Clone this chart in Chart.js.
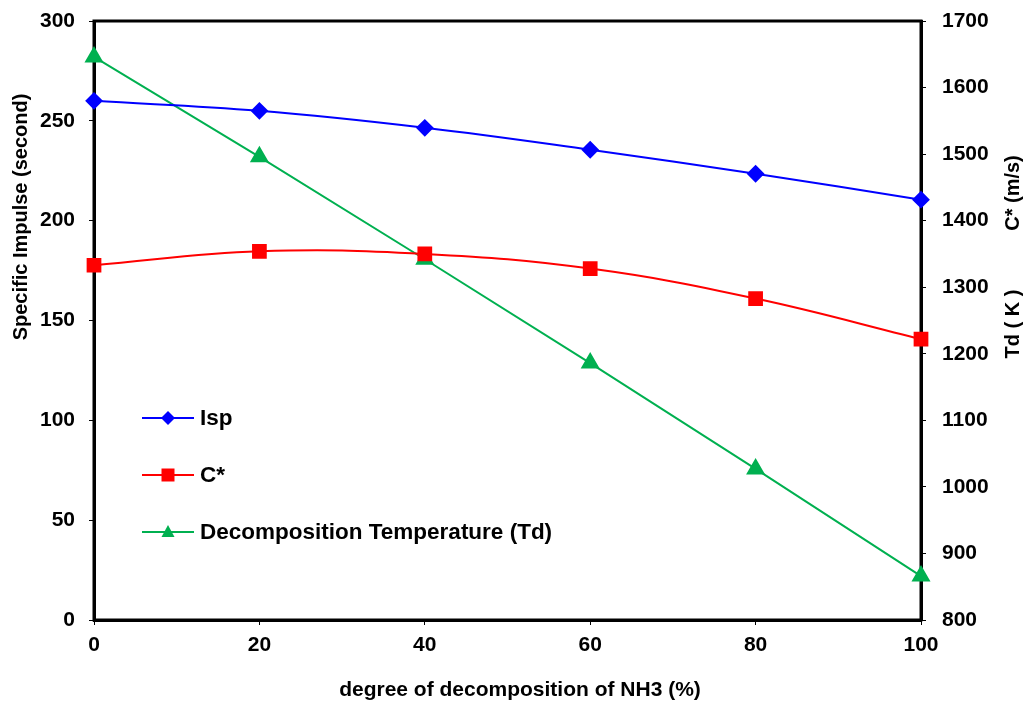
<!DOCTYPE html>
<html lang="en">
<head>
    <meta charset="UTF-8">
    <title>Isp, C* and Td vs degree of decomposition of NH3</title>
    <script src="https://cdn.jsdelivr.net/npm/chart.js"></script>
    <style>
        body { margin: 0; background: #fff; }
        #wrap { width: 1026px; height: 701px; }
    </style>
</head>
<body>
<div id="wrap"><canvas id="chart"></canvas></div>
<script>
    // degree of decomposition (%)
    const decomposition = [0, 20, 40, 60, 80, 100];
    const ispValues = [260, 255, 246.5, 235.5, 223.5, 210.5];      // second (left axis)
    const cStarValues = [1333, 1354, 1350, 1328, 1283, 1222];     // m/s (right axis)
    const tdValues = [1646, 1496, 1342, 1186, 1027, 866];         // K (right axis)

    const legendItems = [
        { label: 'Isp', color: '#0000ff', style: 'rectRot' },
        { label: 'C*', color: '#ff0000', style: 'rect' },
        { label: 'Decomposition Temperature (Td)', color: '#00b050', style: 'triangle' }
    ];

    const toXY = vals => vals.map((v, i) => ({ x: decomposition[i], y: v }));
    const FAMILY = 'Arial, "Liberation Sans", sans-serif';
    const tickFont = { family: FAMILY, size: 21, weight: 'bold' };

    function drawMarker(ctx, style, x, y, color) {
        ctx.fillStyle = color;
        ctx.beginPath();
        if (style === 'rectRot') {
            ctx.moveTo(x, y - 7); ctx.lineTo(x + 7, y); ctx.lineTo(x, y + 7); ctx.lineTo(x - 7, y);
        } else if (style === 'rect') {
            ctx.rect(x - 6.5, y - 6.5, 13, 13);
        } else {
            ctx.moveTo(x, y - 7); ctx.lineTo(x + 6.5, y + 5); ctx.lineTo(x - 6.5, y + 5);
        }
        ctx.closePath();
        ctx.fill();
    }

    function rotatedText(ctx, text, x, y) {
        ctx.save();
        ctx.translate(x, y);
        ctx.rotate(-Math.PI / 2);
        ctx.fillText(text, 0, 0);
        ctx.restore();
    }

    // frame under the lines, titles and legend on top
    const extras = {
        id: 'extras',
        beforeDatasetsDraw(chart) {
            const { ctx, chartArea: a } = chart;
            ctx.save();
            ctx.strokeStyle = '#000';
            ctx.lineWidth = 3;
            ctx.strokeRect(a.left, a.top, a.right - a.left, a.bottom - a.top);
            ctx.restore();
        },
        afterDatasetsDraw(chart) {
            const { ctx } = chart;
            ctx.save();
            ctx.fillStyle = '#000';
            ctx.font = 'bold 21px ' + FAMILY;
            ctx.textAlign = 'center';
            ctx.textBaseline = 'middle';
            ctx.fillText('degree of decomposition of NH3 (%)', 520, 690);
            ctx.font = 'bold 20px ' + FAMILY;
            rotatedText(ctx, 'Specific Impulse (second)', 21, 217);
            rotatedText(ctx, 'C* (m/s)', 1013, 193);
            rotatedText(ctx, 'Td ( K )', 1013, 324);

            legendItems.forEach((it, i) => {
                const y = 418 + i * 57;
                ctx.strokeStyle = it.color;
                ctx.lineWidth = 2;
                ctx.beginPath();
                ctx.moveTo(142, y); ctx.lineTo(194, y);
                ctx.stroke();
                drawMarker(ctx, it.style, 168, y, it.color);
                ctx.fillStyle = '#000';
                ctx.font = 'bold 22.5px ' + FAMILY;
                ctx.textAlign = 'left';
                ctx.textBaseline = 'middle';
                ctx.fillText(it.label, 200, y + 1);
            });
            ctx.restore();
        }
    };

    const axisGrid = { drawOnChartArea: false, drawTicks: true, tickLength: 5, color: '#000', lineWidth: 1 };
    const axisBorder = { color: '#000', width: 3 };

    new Chart(document.getElementById('chart'), {
        type: 'line',
        data: {
            datasets: [
                {
                    label: 'Isp', data: toXY(ispValues), yAxisID: 'y',
                    borderColor: '#0000ff', backgroundColor: '#0000ff', borderWidth: 2,
                    pointStyle: 'rectRot', pointRadius: 7.5, tension: 0.4, clip: false
                },
                {
                    label: 'C*', data: toXY(cStarValues), yAxisID: 'y2',
                    borderColor: '#ff0000', backgroundColor: '#ff0000', borderWidth: 2,
                    pointStyle: 'rect', pointRadius: 9, tension: 0.4, clip: false
                },
                {
                    label: 'Decomposition Temperature (Td)', data: toXY(tdValues), yAxisID: 'y2',
                    borderColor: '#00b050', backgroundColor: '#00b050', borderWidth: 2,
                    pointStyle: 'triangle', pointRadius: 9, tension: 0, clip: false
                }
            ]
        },
        options: {
            responsive: true,
            maintainAspectRatio: false,
            animation: false,
            layout: { padding: { top: 21, left: 0, right: 0, bottom: 0 } },
            plugins: { legend: { display: false }, tooltip: { enabled: false } },
            scales: {
                x: {
                    type: 'linear', min: 0, max: 100,
                    ticks: { stepSize: 20, color: '#000', font: tickFont, padding: 8 },
                    grid: axisGrid, border: axisBorder,
                    afterFit: s => { s.height = 81; s.paddingLeft = 0; s.paddingRight = 0; }
                },
                y: {
                    position: 'left', min: 0, max: 300,
                    ticks: { stepSize: 50, color: '#000', font: tickFont, padding: 14 },
                    grid: axisGrid, border: axisBorder,
                    afterFit: s => { s.width = 94; s.paddingTop = 0; s.paddingBottom = 0; }
                },
                y2: {
                    position: 'right', min: 800, max: 1700,
                    ticks: { stepSize: 100, color: '#000', font: tickFont, padding: 16, callback: v => String(v) },
                    grid: axisGrid, border: axisBorder,
                    afterFit: s => { s.width = 105; s.paddingTop = 0; s.paddingBottom = 0; }
                }
            }
        },
        plugins: [extras]
    });
</script>
</body>
</html>
